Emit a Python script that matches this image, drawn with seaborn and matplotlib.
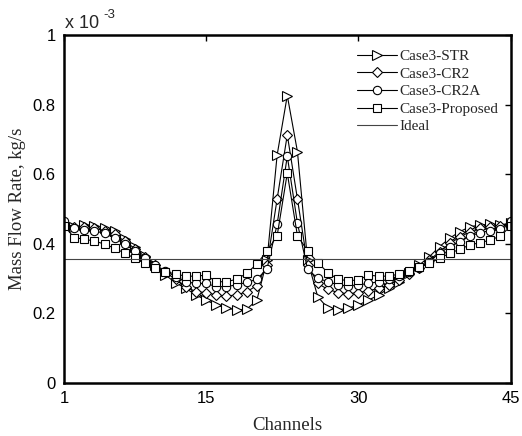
import numpy as np
import pandas as pd
import matplotlib
matplotlib.use("Agg")
import matplotlib.pyplot as plt
import seaborn as sns

sns.set_style("white")
plt.rcParams["font.family"] = ["Liberation Sans", "DejaVu Sans"]

channels = list(range(1, 46))

# Mass flow rate per channel, in units of 1e-3 kg/s
str_flow = [0.458, 0.449, 0.454, 0.452, 0.446, 0.437, 0.414, 0.392, 0.366, 0.339,
            0.310, 0.288, 0.272, 0.253, 0.238, 0.224, 0.215, 0.210, 0.212, 0.238,
            0.352, 0.655, 0.826, 0.665, 0.352, 0.248, 0.215, 0.210, 0.215, 0.224,
            0.238, 0.253, 0.272, 0.291, 0.316, 0.339, 0.363, 0.392, 0.416, 0.435,
            0.449, 0.454, 0.456, 0.454, 0.460]
cr2_flow = [0.460, 0.447, 0.447, 0.444, 0.438, 0.427, 0.407, 0.386, 0.362, 0.339,
            0.318, 0.298, 0.277, 0.262, 0.260, 0.253, 0.250, 0.253, 0.262, 0.280,
            0.340, 0.529, 0.713, 0.529, 0.340, 0.286, 0.269, 0.260, 0.256, 0.260,
            0.265, 0.272, 0.282, 0.296, 0.313, 0.330, 0.353, 0.377, 0.401, 0.419,
            0.435, 0.444, 0.449, 0.451, 0.460]
cr2a_flow = [0.466, 0.444, 0.440, 0.437, 0.430, 0.416, 0.399, 0.379, 0.358, 0.339,
             0.322, 0.305, 0.291, 0.286, 0.286, 0.277, 0.277, 0.282, 0.289, 0.298,
             0.328, 0.456, 0.652, 0.459, 0.327, 0.301, 0.291, 0.282, 0.279, 0.282,
             0.286, 0.291, 0.298, 0.307, 0.320, 0.330, 0.349, 0.373, 0.392, 0.406,
             0.422, 0.432, 0.438, 0.442, 0.466]
proposed_flow = [0.452, 0.418, 0.413, 0.408, 0.399, 0.387, 0.373, 0.358, 0.344, 0.331,
                 0.320, 0.313, 0.307, 0.307, 0.310, 0.291, 0.291, 0.298, 0.315, 0.342,
                 0.379, 0.423, 0.603, 0.423, 0.380, 0.346, 0.317, 0.298, 0.294, 0.296,
                 0.310, 0.307, 0.307, 0.313, 0.323, 0.332, 0.344, 0.358, 0.373, 0.384,
                 0.397, 0.403, 0.411, 0.422, 0.451]
ideal_flow = 0.3556

series_names = ["Case3-STR", "Case3-CR2", "Case3-CR2A", "Case3-Proposed"]
series_values = [str_flow, cr2_flow, cr2a_flow, proposed_flow]
series_markers = [">", "D", "o", "s"]
marker_sizes = [7, 5.0, 6, 5.8]

x_ticks = [1, 15, 30, 45]
y_ticks = [0, 0.2, 0.4, 0.6, 0.8, 1.0]
y_tick_labels = ["0", "0.2", "0.4", "0.6", "0.8", "1"]

fig = plt.figure(figsize=(5.22, 4.36), dpi=100)
ax = fig.add_axes([0.1226, 0.1216, 0.8555, 0.7981])

serif = ["Liberation Serif", "DejaVu Serif"]

for name, vals, mk, ms in zip(series_names, series_values, series_markers, marker_sizes):
    df = pd.DataFrame({"Channel": channels, "Flow": np.array(vals) * 1e-3})
    sns.lineplot(data=df, x="Channel", y="Flow", ax=ax, color="black", lw=0.8,
                 marker=mk, markersize=ms, markerfacecolor="white",
                 markeredgecolor="black", markeredgewidth=0.8, label=name)

ideal_df = pd.DataFrame({"Channel": [channels[0], channels[-1]],
                         "Flow": [ideal_flow * 1e-3, ideal_flow * 1e-3]})
sns.lineplot(data=ideal_df, x="Channel", y="Flow", ax=ax, color="#444444",
             lw=0.8, label="Ideal")

ax.set_xlim(1, 45)
ax.set_ylim(0, 1e-3)
ax.set_xticks(x_ticks)
ax.set_xticklabels([str(t) for t in x_ticks])
ax.set_yticks([v * 1e-3 for v in y_ticks])
ax.set_yticklabels(y_tick_labels)
ax.tick_params(direction="in", length=4, width=1, top=True, right=True,
               labelsize=12, pad=6, colors="black")
for sp in ax.spines.values():
    sp.set_visible(True)
    sp.set_linewidth(1.8)
    sp.set_color("black")

ax.set_xlabel("Channels", fontsize=13.5, family=serif, labelpad=8)
ax.set_ylabel("Mass Flow Rate, kg/s", fontsize=13.5, family=serif, labelpad=5)

# Exponent annotation for the y axis
fig.text(65 / 522, 1 - 28 / 436, "x 10", fontsize=13, ha="left", va="baseline")
fig.text(103 / 522, 1 - 18 / 436, "-3", fontsize=9.5, ha="left", va="baseline")

leg = ax.legend(loc="upper right", frameon=False, prop={"family": serif, "size": 11},
                handlelength=2.6, handletextpad=0.15, labelspacing=0.25,
                borderpad=0, borderaxespad=0, bbox_to_anchor=(0.972, 0.958))

fig.savefig("out.png", dpi=100)
